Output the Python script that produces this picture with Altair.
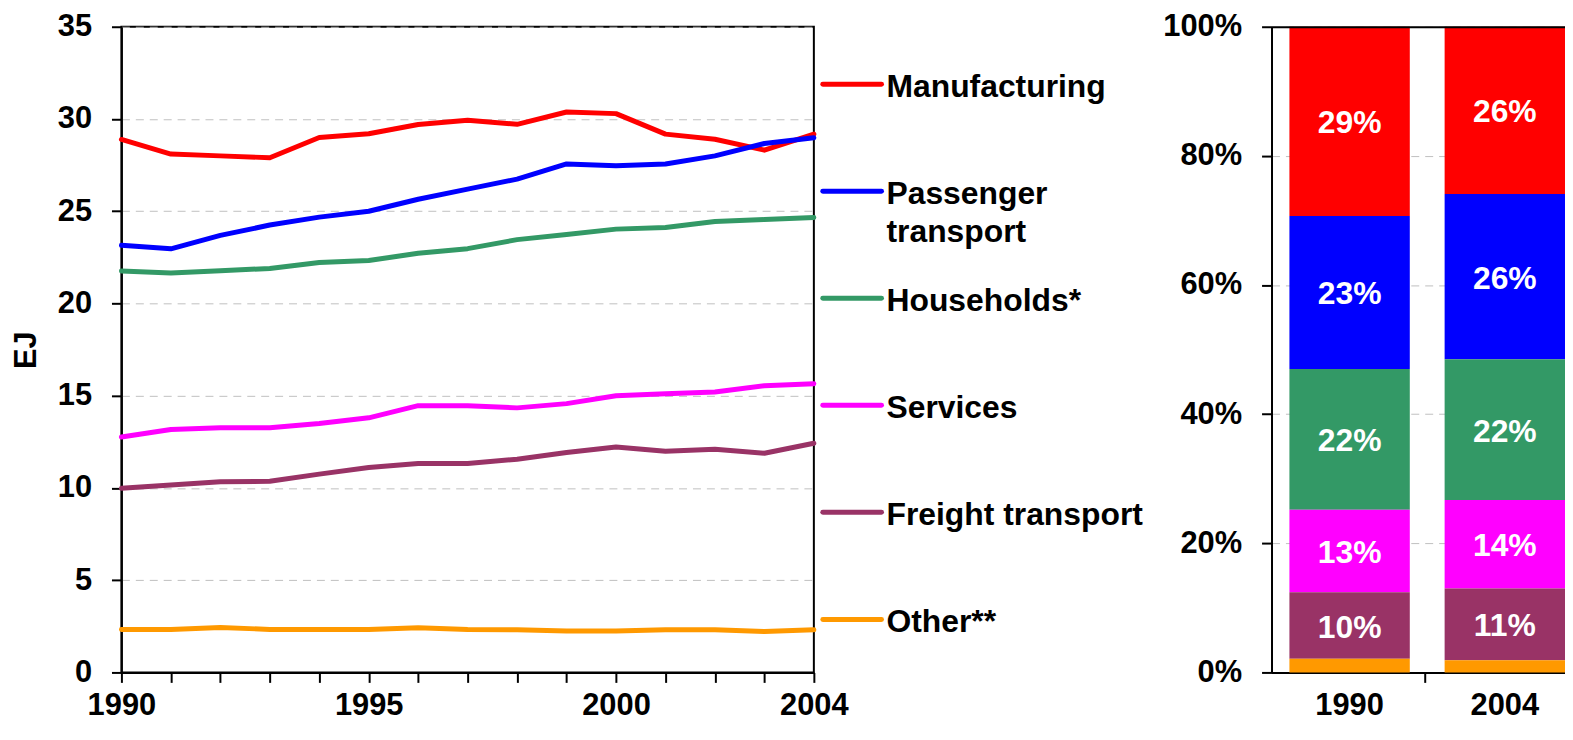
import altair as alt
import pandas as pd

FONT = "Liberation Sans"

years = list(range(1990, 2005))
sectors = ["Manufacturing", "Passenger transport", "Households*", "Services",
           "Freight transport", "Other**"]
colors = ["#FF0000", "#0000FF", "#339966", "#FF00FF", "#993366", "#FF9900"]

manufacturing = [28.89, 28.10, 28.00, 27.90, 29.00, 29.20, 29.70, 29.93, 29.71, 30.38, 30.29, 29.18, 28.90, 28.31, 29.18]
passenger = [23.15, 22.96, 23.69, 24.25, 24.68, 25.00, 25.65, 26.20, 26.74, 27.56, 27.47, 27.56, 28.00, 28.67, 28.98]
households = [21.76, 21.65, 21.77, 21.90, 22.22, 22.33, 22.72, 22.97, 23.46, 23.74, 24.03, 24.12, 24.44, 24.55, 24.66]
services = [12.76, 13.17, 13.26, 13.26, 13.49, 13.80, 14.46, 14.46, 14.34, 14.57, 15.00, 15.10, 15.20, 15.54, 15.65]
freight = [9.98, 10.16, 10.34, 10.36, 10.75, 11.11, 11.33, 11.33, 11.56, 11.92, 12.22, 11.99, 12.10, 11.88, 12.42]
other = [2.33, 2.33, 2.44, 2.33, 2.33, 2.33, 2.42, 2.33, 2.31, 2.24, 2.24, 2.31, 2.31, 2.22, 2.31]

y_ticks = [0, 5, 10, 15, 20, 25, 30, 35]
x_labels = [1990, 1995, 2000, 2004]

share_years = ["1990", "2004"]
share_1990 = [29.3, 23.7, 21.8, 12.8, 10.3, 2.1]
share_2004 = [25.9, 25.6, 21.8, 13.7, 11.1, 1.9]
label_1990 = ["29%", "23%", "22%", "13%", "10%", ""]
label_2004 = ["26%", "26%", "22%", "14%", "11%", ""]
pct_ticks = [0, 20, 40, 60, 80, 100]

legend_line1 = ["Manufacturing", "Passenger", "Households*", "Services", "Freight transport", "Other**"]
legend_line2 = ["", "transport", "", "", "", ""]

# ---------- tables ----------
series = [manufacturing, passenger, households, services, freight, other]
rows = []
for s, vals in zip(sectors, series):
    for y, v in zip(years, vals):
        rows.append({"year": y, "sector": s, "value": v})
df_lines = pd.DataFrame(rows)

rows = []
for yr, shares, labels in [(share_years[0], share_1990, label_1990), (share_years[1], share_2004, label_2004)]:
    for i, (s, v, l) in enumerate(zip(sectors, shares, labels)):
        rows.append({"year": yr, "sector": s, "share": v, "label": l, "order": len(sectors) - i})
df_share = pd.DataFrame(rows)

df_leg = pd.DataFrame({"sector": sectors, "line1": legend_line1, "line2": legend_line2})

color_scale = alt.Scale(domain=sectors, range=colors)
H = 649

# ---------- left: line chart ----------
label_list = ",".join(str(v) for v in x_labels)
left = alt.Chart(df_lines).mark_line(strokeWidth=5, strokeCap="round", strokeJoin="round").encode(
    x=alt.X("year:Q",
            scale=alt.Scale(domain=[years[0], years[-1]], nice=False, zero=False),
            axis=alt.Axis(values=years, format="d", title=None, grid=False,
                          labelExpr=f"indexof([{label_list}], datum.value) >= 0 ? datum.label : ''",
                          labelFlush=False, labelOverlap=False, labelPadding=8,
                          labelFontSize=31)),
    y=alt.Y("value:Q",
            scale=alt.Scale(domain=[y_ticks[0], y_ticks[-1]], nice=False),
            axis=alt.Axis(values=y_ticks, title="EJ", grid=True, labelPadding=20,
                          titlePadding=15, labelFontSize=31)),
    color=alt.Color("sector:N", scale=color_scale, legend=None),
).properties(width=696, height=H)

# ---------- middle: legend ----------
leg_y = alt.Y("sector:N", scale=alt.Scale(type="point", domain=sectors, padding=0.516, align=0.52), axis=None)
leg_rules = alt.Chart(df_leg).mark_rule(strokeWidth=5, strokeCap="round").encode(
    y=leg_y, x=alt.value(9), x2=alt.value(68),
    color=alt.Color("sector:N", scale=color_scale, legend=None))
leg_text1 = alt.Chart(df_leg).mark_text(align="left", baseline="middle", dy=3, font=FONT,
                                         fontWeight="bold", fontSize=32, color="black").encode(
    y=leg_y, x=alt.value(73), text="line1:N")
leg_text2 = alt.Chart(df_leg).transform_filter("datum.line2 != ''").mark_text(
    align="left", baseline="middle", dy=41, font=FONT, fontWeight="bold", fontSize=32,
    color="black").encode(y=leg_y, x=alt.value(73), text="line2:N")
legend = alt.layer(leg_rules, leg_text1, leg_text2).properties(
    width=460, height=H, view=alt.ViewBackground(stroke="transparent"))

# ---------- right: 100% stacked bars ----------
xs = alt.Scale(domain=share_years, paddingInner=0.2244, paddingOuter=0.1154)
ys = alt.Scale(domain=[0, 100], nice=False)
base = alt.Chart(df_share).transform_stack(
    stack="share", as_=["y0", "y1"], groupby=["year"], sort=[alt.SortField("order", order="ascending")])
bars = base.mark_bar().encode(
    x=alt.X("year:N", scale=xs,
            axis=alt.Axis(orient="bottom", title=None, labelAngle=0, tickOpacity=0, grid=False,
                          labelPadding=8, labelFontSize=31)),
    y=alt.Y("y1:Q", scale=ys,
            axis=alt.Axis(orient="left", values=pct_ticks, labelExpr="datum.value + '%'", title=None,
                          grid=True, labelPadding=20, labelFontSize=31, zindex=0)),
    y2="y0:Q",
    color=alt.Color("sector:N", scale=color_scale, legend=None),
)
texts = base.transform_filter("datum.label != ''").transform_calculate(
    mid="(datum.y0 + datum.y1) / 2").mark_text(
    color="white", font=FONT, fontWeight="bold", fontSize=32, baseline="middle", dy=2).encode(
    x=alt.X("year:N", scale=xs,
            axis=alt.Axis(orient="bottom", values=[share_years[0]], bandPosition=1.132,
                          labels=False, domain=False, grid=False, title=None, minExtent=0)),
    y=alt.Y("mid:Q", scale=ys,
            axis=alt.Axis(orient="right", values=[100], labels=False, ticks=False, domain=False,
                          grid=True, gridColor="black", gridDash=[], gridWidth=2, zindex=1,
                          title=None, minExtent=0, maxExtent=0)),
    text="label:N")
right = alt.layer(bars, texts).resolve_axis(x="independent", y="independent").properties(
    width=313, height=H, view=alt.ViewBackground(stroke="transparent"))

chart = alt.hconcat(left, legend, right, spacing=0, bounds="flush",
                    padding={"left": 1, "top": 0, "right": -19, "bottom": 0}).configure_view(
    stroke="black", strokeWidth=2
).configure_axis(
    domainColor="black", domainWidth=2, tickColor="black", tickWidth=2, tickSize=10,
    labelFont=FONT, labelFontWeight="bold", labelColor="black",
    titleFont=FONT, titleFontWeight="bold", titleFontSize=31, titleColor="black",
    gridColor="#c0c0c0", gridDash=[8, 6], gridWidth=1,
)

chart.save("out.html", embed_options={"renderer": "svg", "actions": False})
